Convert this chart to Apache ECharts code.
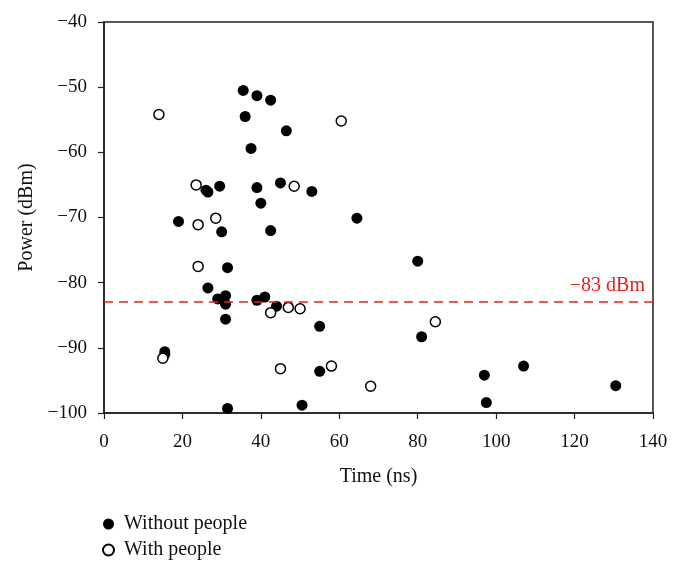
<!DOCTYPE html>
<html><head><meta charset="utf-8">
<script src="https://cdn.jsdelivr.net/npm/echarts@6/dist/echarts.min.js"></script>
<style>html,body{margin:0;padding:0;background:#fff}#c{width:678px;height:573px}</style>
</head><body><div id="c"></div>
<script>
const withoutPeople = [
 [35.5,-50.5],[39,-51.3],[42.5,-52],[36,-54.5],[46.5,-56.7],[37.5,-59.4],
 [45,-64.7],[29.5,-65.2],[39,-65.4],[26,-65.8],[26.5,-66.1],[53,-66],
 [40,-67.8],[64.5,-70.1],[19,-70.6],[42.5,-72],[30,-72.2],[31.5,-77.7],
 [80,-76.7],[26.5,-80.8],[29,-82.5],[31,-82],[31,-83.3],[39,-82.7],
 [41,-82.2],[44,-83.6],[31,-85.6],[55,-86.7],[81,-88.3],[15.5,-90.6],
 [15.5,-91],[55,-93.6],[97,-94.2],[107,-92.8],[130.5,-95.8],[97.5,-98.4],
 [50.5,-98.8],[31.5,-99.3]
];
const withPeople = [
 [14,-54.2],[60.5,-55.2],[23.5,-65],[48.5,-65.2],[28.5,-70.1],[24,-71.1],
 [24,-77.5],[42.5,-84.6],[47,-83.8],[50,-84],[84.5,-86],[15,-91.6],
 [45,-93.2],[58,-92.8],[68,-95.9]
];
const threshold = -83;
const xTicks = {min:0, max:140, interval:20};
const yTicks = {min:-100, max:-40, interval:10};
const font = '"Liberation Serif", "DejaVu Serif", serif';
const minus = v => String(v).replace('-', '\u2212');
const chart = echarts.init(document.getElementById('c'));
chart.setOption({
  animation:false,
  grid:{left:104,right:25,top:22,bottom:160,show:true,borderColor:'#222',borderWidth:1.5},
  legend:{orient:'vertical',left:97,top:509,itemWidth:11,itemHeight:11,itemGap:6,
    textStyle:{fontFamily:font,fontSize:20,color:'#111',padding:[0,0,0,5]},
    data:['Without people','With people']},
  xAxis:{type:'value',min:xTicks.min,max:xTicks.max,interval:xTicks.interval,
    name:'Time (ns)',nameLocation:'middle',nameGap:54,
    nameTextStyle:{fontFamily:font,fontSize:20,color:'#111'},
    axisLine:{lineStyle:{color:'#222',width:1.5}},
    axisTick:{show:true,inside:false,length:6,lineStyle:{color:'#222',width:1.2}},
    axisLabel:{fontFamily:font,fontSize:19,color:'#111',margin:20},
    splitLine:{show:false}},
  yAxis:{type:'value',min:yTicks.min,max:yTicks.max,interval:yTicks.interval,
    name:'Power (dBm)',nameLocation:'middle',nameGap:63,
    nameTextStyle:{fontFamily:font,fontSize:20,color:'#111'},
    axisLine:{show:true,lineStyle:{color:'#222',width:1.5}},
    axisTick:{show:true,inside:false,length:6,lineStyle:{color:'#222',width:1.2}},
    axisLabel:{fontFamily:font,fontSize:19,color:'#111',margin:17,formatter:v=>minus(v)},
    splitLine:{show:false}},
  series:[
    {name:'Without people',type:'scatter',data:withoutPeople,symbol:'circle',symbolSize:11,
      itemStyle:{color:'#000',opacity:1},
      markLine:{silent:true,symbol:'none',
        lineStyle:{color:'#e3221c',type:[9,6],width:1.5},
        label:{position:'insideEndTop',formatter:minus(threshold)+' dBm',
          fontFamily:font,fontSize:20,color:'#e3221c',distance:[8,6]},
        data:[{yAxis:threshold}]}},
    {name:'With people',type:'scatter',data:withPeople,symbol:'circle',symbolSize:10,
      itemStyle:{color:'#fff',borderColor:'#000',borderWidth:1.5,opacity:1}}
  ]
});
</script></body></html>
